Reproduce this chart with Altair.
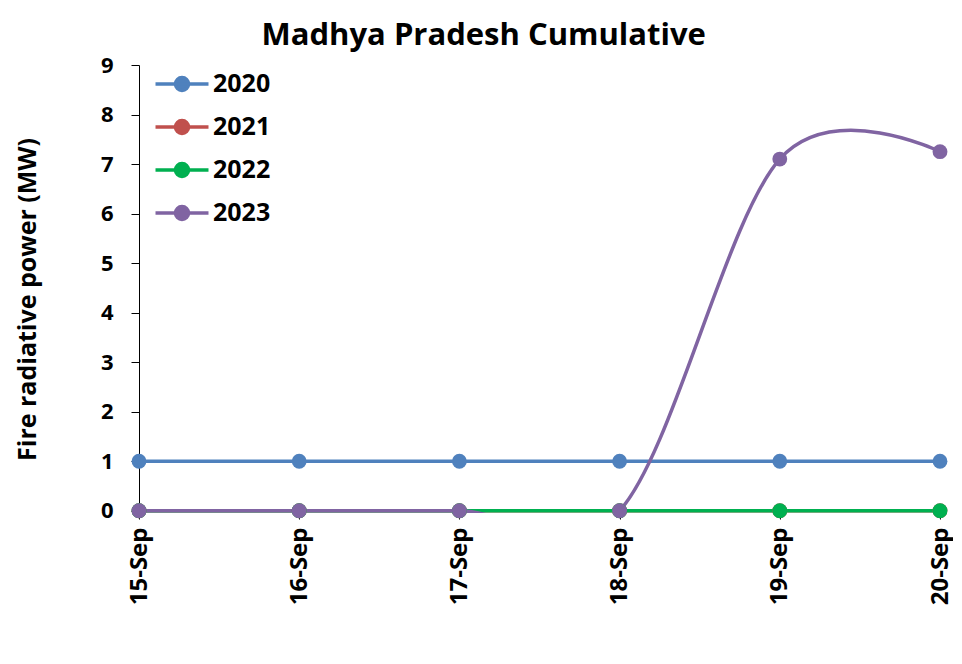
import altair as alt
import pandas as pd

dates = ["15-Sep", "16-Sep", "17-Sep", "18-Sep", "19-Sep", "20-Sep"]
years = ["2020", "2021", "2022", "2023"]
colors = ["#4F81BD", "#C0504D", "#00B050", "#8064A2"]
v2020 = [1, 1, 1, 1, 1, 1]
v2021 = [0, 0, 0, 0, 0, 0]
v2022 = [0, 0, 0, 0, 0, 0]
v2023 = [0, 0, 0, 0, 7.1, 7.25]

rows = []
for yr, vals in zip(years, [v2020, v2021, v2022, v2023]):
    for i, (d, v) in enumerate(zip(dates, vals)):
        rows.append({"date": d, "year": yr, "value": v, "order": i})
df = pd.DataFrame(rows)

FONT = "Open Sans"
sym = "M-2,0L2,0M-0.49,0A0.49,0.49,0,1,1,0.49,0A0.49,0.49,0,1,1,-0.49,0Z"

color = alt.Color(
    "year:N",
    scale=alt.Scale(domain=years, range=colors),
    legend=alt.Legend(
        title=None, orient="none", legendX=28, legendY=4,
        symbolType=sym, symbolSize=702, symbolStrokeWidth=3.5,
        labelFont=FONT, labelFontSize=25, labelFontWeight="bold",
        labelColor="black", rowPadding=14, labelOffset=16, labelLimit=200,
    ),
)

x = alt.X(
    "date:O", sort=dates, title=None,
    scale=alt.Scale(type="point", padding=0),
    axis=alt.Axis(labelAngle=270, labelAlign="right", labelBaseline="middle",
                  labelFont=FONT, labelFontSize=24, labelFontWeight="bold",
                  labelColor="black", domain=False, tickColor="black",
                  tickSize=6, labelPadding=8),
)
y = alt.Y(
    "value:Q", title="Fire radiative power (MW)",
    scale=alt.Scale(domain=[-0.045, 9], nice=False, zero=False),
    axis=alt.Axis(values=list(range(10)), grid=False, labelFont=FONT,
                  labelFontSize=22, labelFontWeight="bold", labelColor="black",
                  domainColor="black", tickColor="black", tickSize=8,
                  labelPadding=18, titleFont=FONT, titleFontSize=25,
                  titleFontWeight="bold", titleColor="black", titlePadding=60,
                  titleY=234),
)

lines = alt.Chart(df).mark_line(interpolate="cardinal", tension=0, strokeWidth=3.5,
                                clip=True).encode(
    x=x, y=y, color=color, order="order:Q"
)
points = alt.Chart(df).mark_point(filled=True, size=220, opacity=1).encode(
    x=x, y=y, color=color
)

chart = alt.layer(lines, points).properties(
    width=801, height=448,
    padding={"left": 7, "top": 12, "right": 1, "bottom": 5},
    title=alt.Title("Madhya Pradesh Cumulative", font=FONT, fontSize=31,
                    fontWeight="bold", color="black", offset=2, anchor="middle",
                    frame="bounds"),
).configure(background="white").configure_view(strokeWidth=0)

chart.save("out.html", embed_options={"renderer": "svg", "actions": False})
